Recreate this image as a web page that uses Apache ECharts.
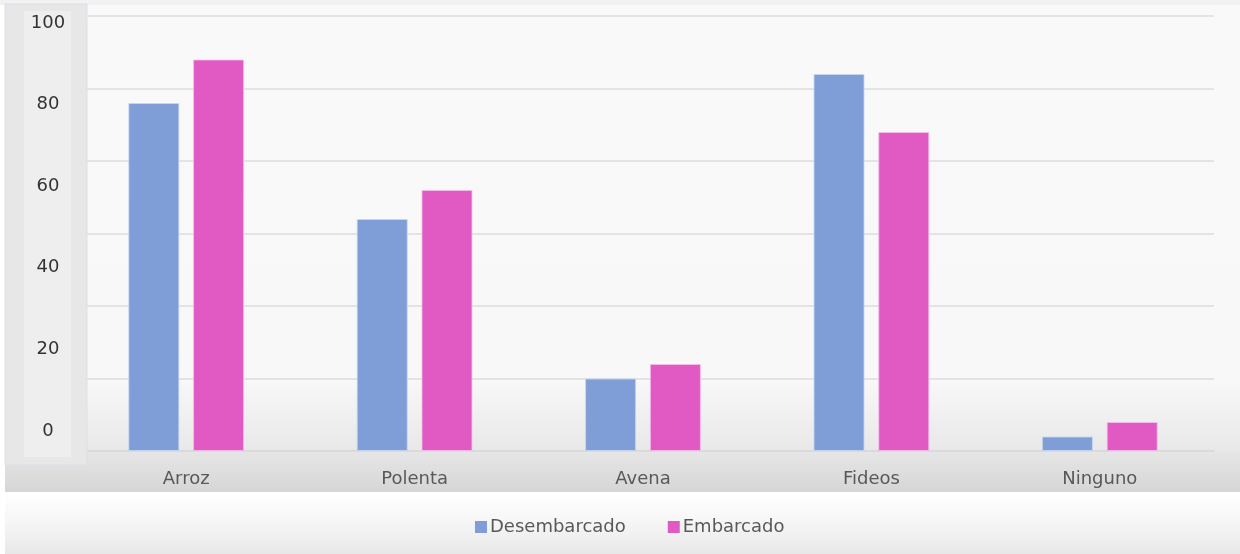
<!DOCTYPE html>
<html>
<head>
<meta charset="utf-8">
<script src="https://cdn.jsdelivr.net/npm/echarts@6/dist/echarts.min.js"></script>
<style>
  html, body { margin: 0; padding: 0; background: #ffffff; }
  #chart { width: 1240px; height: 554px; }
</style>
</head>
<body>
<div id="chart"></div>
<script>
// Categories and the two series
const categories = ['Arroz', 'Polenta', 'Avena', 'Fideos', 'Ninguno'];
const desembarcado = [96, 64, 20, 104, 4];
const embarcado = [108, 72, 24, 88, 8];
// Values printed in the side label panel
const panelTicks = [0, 20, 40, 60, 80, 100];

const FONT = 'DejaVu Sans';
const chart = echarts.init(document.getElementById('chart'), null, { renderer: 'canvas' });

chart.setOption({
  backgroundColor: '#ffffff',
  animation: false,
  graphic: [
    // top strip
    { type: 'rect', z: -10, shape: { x: 0, y: 0, width: 1240, height: 5 }, style: { fill: '#f2f2f2' } },
    // plot background fading into grey near the base
    { type: 'rect', z: -10, shape: { x: 5, y: 5, width: 1235, height: 446 },
      style: { fill: new echarts.graphic.LinearGradient(0, 0, 0, 1, [
        { offset: 0, color: '#f9f9f9' }, { offset: 0.84, color: '#f8f8f8' }, { offset: 1, color: '#e8e8e8' }]) } },
    // category label band
    { type: 'rect', z: -10, shape: { x: 5, y: 451, width: 1235, height: 41 },
      style: { fill: new echarts.graphic.LinearGradient(0, 0, 0, 1, [
        { offset: 0, color: '#e6e6e6' }, { offset: 1, color: '#d6d6d6' }]) } },
    // legend band
    { type: 'rect', z: -10, shape: { x: 5, y: 492, width: 1235, height: 62 },
      style: { fill: new echarts.graphic.LinearGradient(0, 0, 0, 1, [
        { offset: 0, color: '#ffffff' }, { offset: 0.4, color: '#f8f8f8' }, { offset: 1, color: '#e8e8e8' }]) } },
    // side label panel
    { type: 'rect', z: 1, shape: { x: 5, y: 4, width: 82, height: 461 },
      style: { fill: '#e7e7e7', stroke: '#d9dfe7', lineWidth: 1 } },
    { type: 'rect', z: 1, shape: { x: 24, y: 11, width: 47, height: 446 },
      style: { fill: '#eeeeee' } }
  ],
  legend: {
    data: ['Desembarcado', 'Embarcado'],
    left: 470,
    top: 513,
    icon: 'rect',
    itemWidth: 12,
    itemHeight: 12,
    itemGap: 42,
    itemStyle: { borderWidth: 0 },
    textStyle: { fontFamily: FONT, fontSize: 18, color: '#595959', padding: [0, 0, 0, -2] }
  },
  grid: [
    { left: 72, right: 26, top: 16, bottom: 103, containLabel: false },
    { left: 70, width: 1, top: 23, bottom: 123, containLabel: false }
  ],
  xAxis: [
    {
      type: 'category', gridIndex: 0, data: categories,
      axisLine: { lineStyle: { color: '#d9d9d9', width: 1.5 } },
      axisTick: { show: false },
      axisLabel: { fontFamily: FONT, fontSize: 18, color: '#595959', margin: 19 }
    },
    { type: 'category', gridIndex: 1, data: [''], show: false }
  ],
  yAxis: [
    {
      type: 'value', gridIndex: 0, min: 0, max: 120, interval: 20,
      axisLabel: { show: false },
      axisLine: { show: false },
      axisTick: { show: false },
      splitLine: { lineStyle: { color: '#dcdcdc', width: 1.5 } }
    },
    {
      type: 'value', gridIndex: 1, min: panelTicks[0], max: panelTicks[panelTicks.length - 1], interval: 20,
      z: 5,
      axisLine: { show: false },
      axisTick: { show: false },
      splitLine: { show: false },
      axisLabel: { fontFamily: FONT, fontSize: 18, color: '#333333', align: 'center', margin: 22 }
    }
  ],
  series: [
    {
      name: 'Desembarcado', type: 'bar', xAxisIndex: 0, yAxisIndex: 0,
      data: desembarcado, barWidth: 51, barGap: '27%',
      itemStyle: { color: '#7f9ed7', borderColor: 'rgba(200,215,240,0.8)', borderWidth: 1 }
    },
    {
      name: 'Embarcado', type: 'bar', xAxisIndex: 0, yAxisIndex: 0,
      data: embarcado, barWidth: 51, barGap: '27%',
      itemStyle: { color: '#e15ac3', borderColor: 'rgba(245,190,235,0.8)', borderWidth: 1 }
    }
  ]
});
</script>
</body>
</html>
